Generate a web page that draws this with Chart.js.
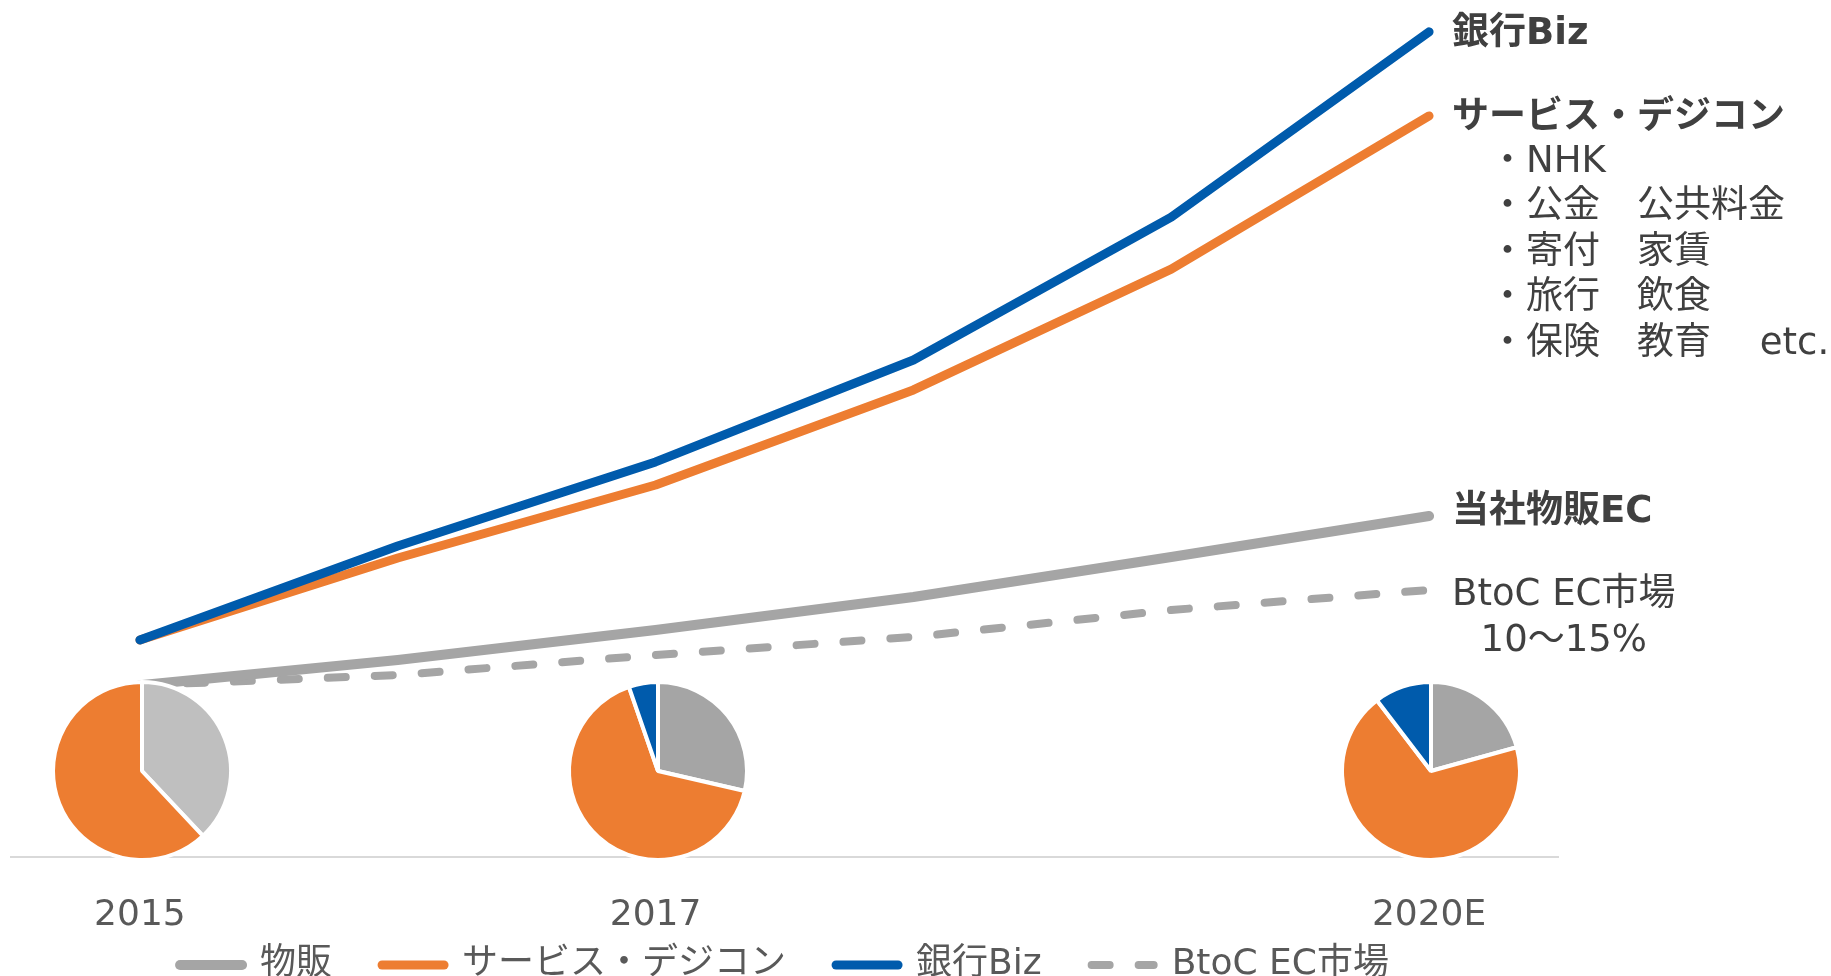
<!DOCTYPE html>
<html>
<head>
<meta charset="utf-8">
<script src="https://cdn.jsdelivr.net/npm/chart.js@4.4.1/dist/chart.umd.min.js"></script>
<style>
  html, body { margin: 0; padding: 0; background: #fff; }
  #wrap { position: relative; width: 1831px; height: 976px; overflow: hidden; }
  #wrap canvas { position: absolute; left: 0; top: 0; }
</style>
</head>
<body>
<div id="wrap"><canvas id="myChart" width="1831" height="976"></canvas></div>
<script>
const years = ['2015', '2016', '2017', '2018', '2019', '2020E'];
const yearTicks = ['2015', '', '2017', '', '', '2020E'];

const seriesNames = ['物販', 'サービス・デジコン', '銀行Biz', 'BtoC EC市場'];
const goodsValues = [79, 90.6, 104.4, 119.6, 138, 156.8];
const serviceValues = [99.8, 137.5, 171.1, 214.8, 270.4, 340.8];
const bankValues = [99.8, 143, 181.7, 228.6, 294.3, 379.5];
const marketValues = [79, 83.7, 92.9, 101.2, 113.6, 122.8];

// labels at the right end of each line
const endLabels = ['当社物販EC', 'サービス・デジコン', '銀行Biz', 'BtoC EC市場'];
const serviceNotes = ['・NHK', '・公金　公共料金', '・寄付　家賃', '・旅行　飲食', '・保険　教育　 etc.'];
const marketNote = '10～15%';

// sales mix pies: 物販, サービス・デジコン, 銀行Biz
const pieYears = ['2015', '2017', '2020E'];
const mix2015 = [38, 62, 0];
const mix2017 = [28.6, 66.1, 5.3];
const mix2020 = [20.7, 68.9, 10.4];

const GRAY = '#A5A5A5';
const LIGHTGRAY = '#BFBFBF';
const ORANGE = '#ED7D31';
const BLUE = '#005BAC';
const FONT = '"DejaVu Sans", "Noto Sans CJK JP", sans-serif';

Chart.defaults.font.family = FONT;
Chart.defaults.font.size = 36;

const lineStyle = {
  pointRadius: 0,
  tension: 0,
  fill: false,
  borderCapStyle: 'round',
  borderJoinStyle: 'round'
};

const data = {
  labels: years,
  datasets: [
    { ...lineStyle, label: seriesNames[0], data: goodsValues, borderColor: GRAY, borderWidth: 10, order: 2 },
    { ...lineStyle, label: seriesNames[1], data: serviceValues, borderColor: ORANGE, borderWidth: 9, order: 1 },
    { ...lineStyle, label: seriesNames[2], data: bankValues, borderColor: BLUE, borderWidth: 9, order: 0 },
    { ...lineStyle, label: seriesNames[3], data: marketValues, borderColor: GRAY, borderWidth: 8, borderDash: [18, 29], order: 3 }
  ]
};

function lastPoint(chart, i) {
  const pts = chart.getDatasetMeta(i).data;
  return pts[pts.length - 1];
}

const endLabelPlugin = {
  id: 'endLabels',
  afterDatasetsDraw(chart) {
    const ctx = chart.ctx;
    ctx.save();
    ctx.fillStyle = '#404040';
    ctx.textBaseline = 'middle';
    ctx.textAlign = 'left';

    ctx.font = 'bold 37px ' + FONT;
    const bank = lastPoint(chart, 2);
    ctx.fillText(endLabels[2], bank.x + 23, bank.y + 3);
    const serv = lastPoint(chart, 1);
    ctx.fillText(endLabels[1], serv.x + 23, serv.y + 2);
    const goods = lastPoint(chart, 0);
    ctx.fillText(endLabels[0], goods.x + 23, goods.y - 4);

    ctx.font = '37px ' + FONT;
    serviceNotes.forEach((t, i) => {
      ctx.fillText(t, serv.x + 60, serv.y + 46 + i * 45.5);
    });

    const mkt = lastPoint(chart, 3);
    const w = ctx.measureText(endLabels[3]).width;
    ctx.textAlign = 'center';
    ctx.fillText(endLabels[3], mkt.x + 23 + w / 2, mkt.y + 5);
    ctx.fillText(marketNote, mkt.x + 23 + w / 2, mkt.y + 51);
    ctx.restore();
  }
};

const conf = {
  type: 'line',
  data: data,
  plugins: [endLabelPlugin],
  options: {
    responsive: false,
    animation: false,
    layout: { padding: { left: 11, right: 273, top: 9, bottom: -17 } },
    scales: {
      x: {
        offset: true,
        grid: { display: false, drawTicks: false },
        border: { display: true, color: '#D9D9D9', width: 2 },
        ticks: {
          color: '#595959',
          mirror: true,
          padding: -80,
          autoSkip: false,
          maxRotation: 0,
          callback: (v, i) => yearTicks[i]
        },
        afterFit: (scale) => { scale.height = 40; }
      },
      y: {
        display: false,
        min: 0,
        max: 390
      }
    },
    plugins: {
      tooltip: { enabled: false },
      legend: {
        position: 'bottom',
        labels: {
          color: '#595959',
          usePointStyle: true,
          pointStyleWidth: 62,
          padding: 50,
          sort: (a, b) => a.datasetIndex - b.datasetIndex,
          generateLabels: (chart) => {
            const items = Chart.defaults.plugins.legend.labels.generateLabels(chart);
            items.forEach(it => {
              const ds = chart.data.datasets[it.datasetIndex];
              it.pointStyle = 'line';
              it.strokeStyle = ds.borderColor;
              it.lineWidth = ds.borderWidth;
              it.lineCap = 'round';
              it.lineDash = ds.borderDash || [];
              it.lineDashOffset = 0;
            });
            return items;
          }
        }
      }
    }
  }
};

const myChart = new Chart(document.getElementById('myChart'), conf);

// pies sit on the category positions, resting on the axis line
const pieSets = [mix2015, mix2017, mix2020];
const pieColors = [[LIGHTGRAY, ORANGE, BLUE], [GRAY, ORANGE, BLUE], [GRAY, ORANGE, BLUE]];
const R = 89;
const S = 190;
const wrap = document.getElementById('wrap');

for (let k = 0; k < pieYears.length; k++) {
  const cx = myChart.scales.x.getPixelForValue(years.indexOf(pieYears[k])) + 2;
  const cy = myChart.chartArea.bottom - R + 3;
  const c = document.createElement('canvas');
  c.width = S;
  c.height = S;
  c.style.left = (cx - S / 2) + 'px';
  c.style.top = (cy - S / 2) + 'px';
  wrap.appendChild(c);
  new Chart(c, {
    type: 'pie',
    data: {
      labels: seriesNames.slice(0, 3),
      datasets: [{
        data: pieSets[k],
        backgroundColor: pieColors[k],
        borderColor: '#ffffff',
        borderWidth: 4,
        radius: R
      }]
    },
    options: {
      responsive: false,
      animation: false,
      layout: { padding: 0 },
      plugins: { legend: { display: false }, tooltip: { enabled: false } }
    }
  });
}
</script>
</body>
</html>
